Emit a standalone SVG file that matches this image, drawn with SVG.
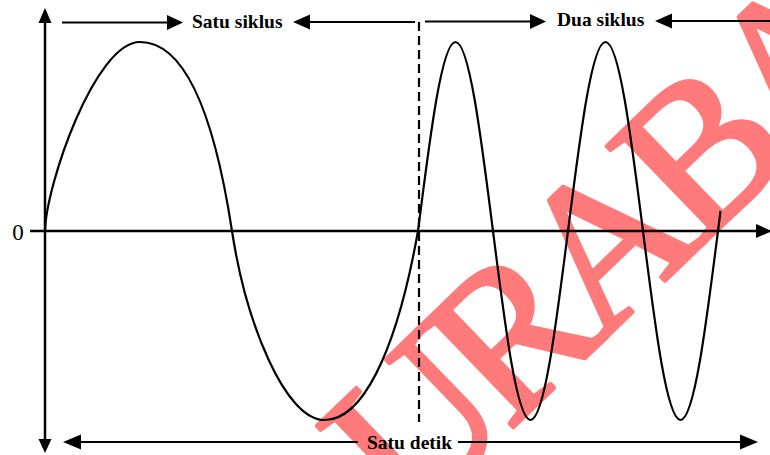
<svg xmlns="http://www.w3.org/2000/svg" width="770" height="455" viewBox="0 0 770 455">
<style>
.ln{stroke:#000;stroke-width:2.2;fill:none}
.ax{stroke:#000;stroke-width:2.5;fill:none}
.hd{fill:#000}
.lbl{font-family:"Liberation Serif","Times New Roman",serif;font-weight:bold;font-size:19.5px;fill:#000}
.wm{font-family:"Liberation Serif","Times New Roman",serif;font-size:210px;fill:#ff7b7b;stroke:#ff7b7b;stroke-width:4;stroke-linejoin:round;letter-spacing:-14px}
</style>
<rect width="770" height="455" fill="#fff"/>
<g id="watermark">
<text class="wm" transform="translate(409,528) rotate(-44)">URABA</text>
</g>
<g id="connectors">
<line class="ax" x1="45" y1="20" x2="45" y2="442"/>
<polygon class="hd" points="45,8 38.5,23 51.5,23"/>
<polygon class="hd" points="45,453 38.5,439 51.5,439"/>
<line class="ax" x1="30" y1="231" x2="758" y2="231"/>
<polygon class="hd" points="772,231 756,224 756,238"/>
<line class="ln" x1="62" y1="22.5" x2="168" y2="22.5"/>
<polygon class="hd" points="183,22.5 167,15 167,30"/>
<line class="ln" x1="309" y1="22" x2="415" y2="22"/>
<polygon class="hd" points="293,22 310,14.5 310,29.5"/>
<line class="ln" x1="425" y1="21.5" x2="531" y2="21.5"/>
<polygon class="hd" points="546,21.5 530,14 530,29"/>
<line class="ln" x1="671" y1="21" x2="770" y2="21"/>
<polygon class="hd" points="655,21 672,13.5 672,28.5"/>
<line class="ln" x1="80" y1="442" x2="358" y2="442"/>
<line class="ln" x1="458" y1="442" x2="742" y2="442"/>
<polygon class="hd" points="63,442 81,434.5 81,449.5"/>
<polygon class="hd" points="758,442 740,434.5 740,449.5"/>
<line class="ln" x1="419" y1="22" x2="419" y2="422" stroke-dasharray="9 5"/>
</g>
<g id="wave">
<path class="ln" d="M45,231 C46,185 95,42 140,42 C180,42 212,100 232,231 C246,323 285,420 324.75,420 C360,420 395,360 418,231 C430.23,134.18 441.93,42 455.5,42 C469.07,42 480.77,134.18 493,231 C505.23,327.82 516.93,420 530.5,420 C544.07,420 555.77,327.82 568,231 C580.23,134.18 591.93,42 605.5,42 C619.07,42 630.77,134.18 643,231 C655.23,327.82 666.93,420 680.5,420 C694.07,420 705.77,327.82 718,231 L720.5,211"/>
</g>
<g id="labels">
<text class="lbl" x="192" y="27.5">Satu siklus</text>
<text class="lbl" x="557" y="26">Dua siklus</text>
<text class="lbl" x="367" y="449">Satu detik</text>
<text x="18" y="240" text-anchor="middle" style="font-family:'Liberation Serif','Times New Roman',serif;font-size:23px">0</text>
</g>
</svg>
